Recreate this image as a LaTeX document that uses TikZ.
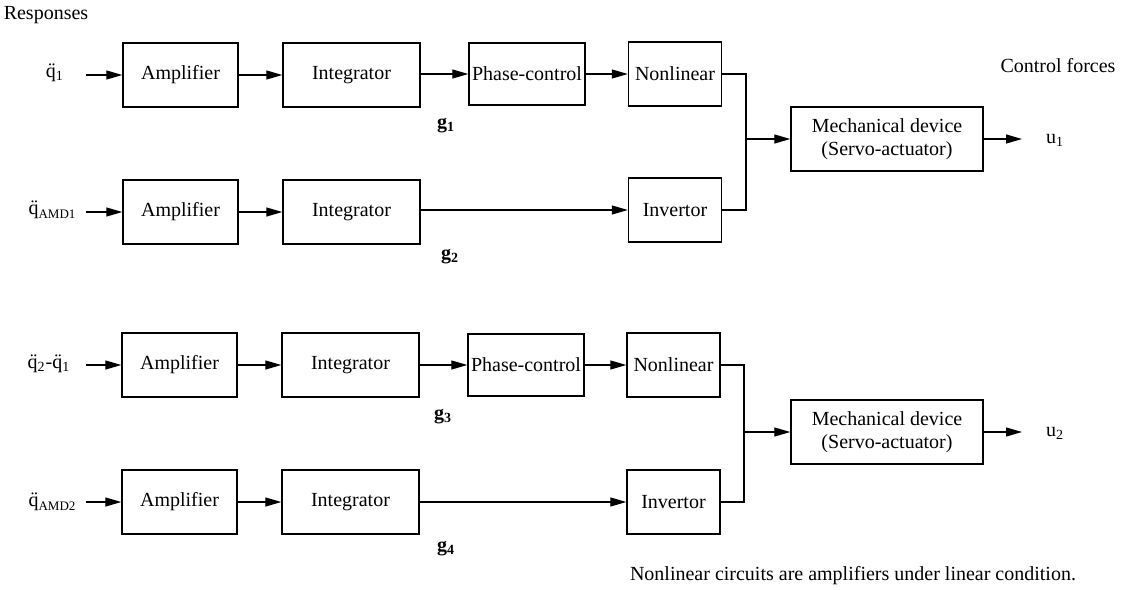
\documentclass[tikz,border=0pt]{standalone}
\usepackage{fontspec}
\setmainfont{Liberation Serif}
\usetikzlibrary{arrows.meta}
\newcommand{\qdd}{\"q}
\newcommand{\sub}[1]{\textsubscript{#1}}
\begin{document}
\begin{tikzpicture}[x=0.5pt,y=-0.5pt,
  every node/.style={font=\fontsize{10}{12}\selectfont, inner sep=0pt},
  blk/.style={draw, line width=0.7pt, rectangle, minimum height=32pt},
  amp/.style={blk, minimum width=57.5pt},
  intg/.style={blk, minimum width=68.5pt},
  phs/.style={blk, minimum width=58pt, minimum height=31pt},
  nlin/.style={blk, minimum width=46.5pt},
  mech/.style={blk, minimum width=96pt, align=center, font=\fontsize{10}{11.5}\selectfont},
  conn/.style={line width=0.6pt},
  arr/.style={conn, -{Triangle[length=8pt,width=4.5pt]}},
  lbl/.style={font=\fontsize{10}{12}\selectfont}
]
\useasboundingbox (0,0) rectangle (1121,590);

% texts
\node[lbl] (resp) at (46,15) {Responses};
\node[lbl] (cf) at (1058,66) {Control forces};
\node[lbl] (note) at (853,576) {Nonlinear circuits are amplifiers under linear condition.};

% inputs
\node[lbl] (in1) at (55,73) {\qdd\sub{1}};
\node[lbl] (in2) at (52,210) {\qdd{\fontsize{6.5}{7}\selectfont\raisebox{-2pt}{AMD1}}};
\node[lbl] (in3) at (49,364) {\qdd\sub{2}-\qdd\sub{1}};
\node[lbl] (in4) at (52,502) {\qdd{\fontsize{6.5}{7}\selectfont\raisebox{-2pt}{AMD2}}};
\coordinate (s1) at (86,75);
\coordinate (s2) at (86,212);
\coordinate (s3) at (86,365);
\coordinate (s4) at (86,502);

% row 1
\node[amp] (a1) at (180.5,75) {Amplifier};
\node[intg] (i1) at (351.5,75) {Integrator};
\node[phs] (p1) at (527,74) {Phase-control};
\node[nlin] (n1) at (675,74) {Nonlinear};
% row 2
\node[amp] (a2) at (180.5,212) {Amplifier};
\node[intg] (i2) at (351.5,212) {Integrator};
\node[nlin] (v2) at (675,210) {Invertor};
% row 3
\node[amp] (a3) at (179.5,365) {Amplifier};
\node[intg] (i3) at (350.5,365) {Integrator};
\node[phs] (p3) at (526,365) {Phase-control};
\node[nlin] (n3) at (673.5,365) {Nonlinear};
% row 4
\node[amp] (a4) at (179.5,502) {Amplifier};
\node[intg] (i4) at (350.5,502) {Integrator};
\node[nlin] (v4) at (673.5,502) {Invertor};

% mechanical devices
\node[mech] (m1) at (887,139) {Mechanical device\\(Servo-actuator)};
\node[mech] (m2) at (887,432) {Mechanical device\\(Servo-actuator)};

% outputs
\node[lbl] (u1) at (1055,140) {u\sub{1}};
\node[lbl] (u2) at (1055,433) {u\sub{2}};
\coordinate (e1) at (1022,139);
\coordinate (e2) at (1022,432);

% g labels
\node[lbl] (g1) at (446,126) {\textbf{g}\sub{\textbf{1}}};
\node[lbl] (g2) at (450,257) {\textbf{g}\sub{\textbf{2}}};
\node[lbl] (g3) at (443,417) {\textbf{g}\sub{\textbf{3}}};
\node[lbl] (g4) at (446,549) {\textbf{g}\sub{\textbf{4}}};

% junctions
\coordinate (j1) at (746,139);
\coordinate (j2) at (744,432);

% connectors row 1
\draw[arr] (s1) -- (a1.west);
\draw[arr] (a1) -- (i1);
\draw[arr] (i1.east |- p1.west) -- (p1.west);
\draw[arr] (p1) -- (n1);
% row 2
\draw[arr] (s2) -- (a2.west);
\draw[arr] (a2) -- (i2);
\draw[arr] (i2.east |- v2.west) -- (v2.west);
% merge 1
\draw[conn] (n1.east) -| (j1) |- (v2.east);
\draw[arr] (j1) -- (m1.west);
\draw[arr] (m1.east) -- (e1);
% row 3
\draw[arr] (s3) -- (a3.west);
\draw[arr] (a3) -- (i3);
\draw[arr] (i3) -- (p3);
\draw[arr] (p3) -- (n3);
% row 4
\draw[arr] (s4) -- (a4.west);
\draw[arr] (a4) -- (i4);
\draw[arr] (i4) -- (v4);
% merge 2
\draw[conn] (n3.east) -| (j2) |- (v4.east);
\draw[arr] (j2) -- (m2.west);
\draw[arr] (m2.east) -- (e2);
\end{tikzpicture}
\end{document}
